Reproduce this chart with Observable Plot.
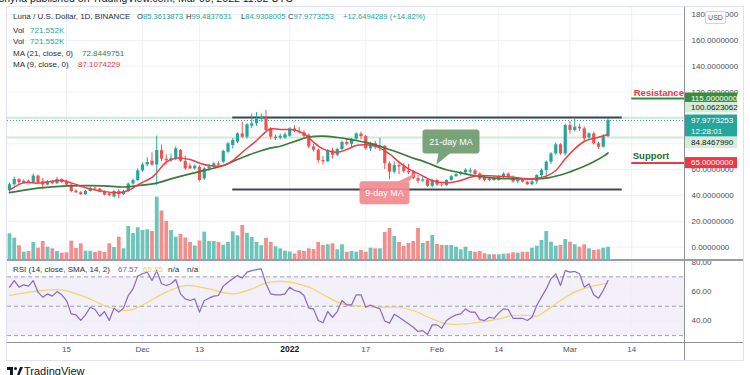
<!DOCTYPE html>
<html>
<head>
<meta charset="utf-8">
<script src="https://cdn.jsdelivr.net/npm/d3@7"></script>
<script src="https://cdn.jsdelivr.net/npm/@observablehq/plot@0.6"></script>
<style>
html,body{margin:0;padding:0;background:#fff;}
#wrap{position:relative;width:750px;height:375px;overflow:hidden;background:#fff;font-family:"Liberation Sans",Arial,sans-serif;color:#131722;}
.a{position:absolute;white-space:nowrap;}
.hd{font-size:8px;line-height:10px;color:#2a2e39;}
.hv{font-size:7.6px;line-height:10px;color:#2a2e39;}
.tl{color:#26a69a}
</style>
</head>
<body>
<div id="wrap">
  <div class="a" style="left:-1px;top:-8px;font-size:10.5px;color:#131722;">shyna published on TradingView.com, Mar 09, 2022 11:52 UTC</div>
  <div class="a" style="left:6px;top:6px;width:736px;height:353px;border:1px solid #e0e3eb;"></div>
</div>
<script>
// ---------- data ----------
const startDate = "2021-11-03";
const open = [43.8,48.2,52.3,49.7,51,50,55,50.5,48,50.5,
  49,52.3,50,48,43.3,42,40.5,43,45.5,44.9,
  42.5,41,38.8,43,40.5,43,48.8,51.5,59,63.6,
  66.5,63.5,74.7,68,66.7,68.3,74.7,66.2,62.6,60.5,
  61.8,52.8,60.5,62,64.4,65.7,73.4,78.6,81.2,87.6,
  85,93.6,95.4,98.7,99.8,91.5,83.8,84.3,84.3,85.8,
  91.5,89.5,88.4,86.5,77.5,75,67,66,74.5,71,
  75.5,81,79.5,83.5,87.5,85.5,76,80,77,78,
  64.5,58,63,62,58.5,57.5,53,51,52,47,
  51.5,48,47.5,51.5,54.5,56,57.5,58,59,56.5,
  53.5,51.5,53,51.5,54,56.5,54,50.5,51.5,50.2,
  48.3,50.5,55.4,59.3,65.7,72.1,79.1,72.1,94.1,90.2,
  92.8,91.5,84.5,87.6,79.9,77.3,85.3613873];
const high = [49.7,54.1,53,52,51.8,56.5,55.8,53,51.5,51.5,
  54,52.8,51.8,49,44.5,43,43.8,46.5,46.3,45.5,
  43.3,42.3,44,44.5,44,49.5,52.5,60.5,65,69,
  73,86,79,71.5,72,77.5,75.5,70.5,64.5,63.5,
  63,61.5,64,65.5,66,75,81,84,88.5,96.7,
  95.5,103,104,103,105.7,92.5,86.5,87.5,88.5,92.5,
  94,92.5,90,87.5,79.5,76,70,75.5,76.5,76.5,
  82,83.5,84,88.5,89,86.5,81,82,84,78.5,
  66,66,66,64.5,64,59,55.5,54,53,52.5,
  52.5,50,52,55.5,57,58.5,60.5,61,60,57.5,
  55,53.5,54.5,55.5,57.5,57.5,55,52,52.5,51,
  51.5,56,60.5,66.5,73,80.5,80,95,97,98.7,
  95,93,88.5,89,81,87,99.4837631];
const low = [42.5,47,48.5,49,49.5,49.5,49,44.4,47.5,48.2,
  48.5,49.2,47.5,42,41.5,40,40,42.5,44,42,
  39.5,39,38,37.5,40,42.5,48,50.5,58,62,
  62.5,47.6,66,63.5,65.5,67,65.5,59.5,60,59.5,
  50.5,51.5,58.5,61,61.5,64.5,72.5,76,80,84,
  83.5,91.5,93.5,96.5,89,83,82.5,83,83.5,85,
  88.5,87.5,84,76,73.5,64.5,63.5,65.5,68,70,
  74.5,78,77,82.5,83,75,74,75.5,74,60,
  52,56.5,56,57,56,52,49,50,46,46,
  47,46.5,47,51,54,55,56,56.5,55.5,51.5,
  50.5,50.5,50.8,51,53,52.5,49.5,49,49.5,47.5,
  47.5,48.5,54,53,64,71,71,70.5,87.5,89,
  89.5,82,83.5,79,75.5,76.5,84.9308005];
const close = [48.2,52.3,49.7,51,50,55,49.7,48,50.5,49,
  52.3,50,48,43,42,40.5,43,45.5,44.9,42.5,
  40.2,39.7,43,40.5,43,48.8,51.5,59,63.6,65.5,
  63.5,74.7,68,66.7,68.5,76,66.5,60.5,60.5,62.6,
  51.5,60.5,62,64.4,63.5,74,79.9,82.5,87.6,85,
  94.6,95.4,98.7,100.5,90.2,85,85,85.8,86.9,91.5,
  89.5,88.4,85.5,77.5,75,67,66,74.5,71,75.5,
  81,79.5,83.5,87.5,85.5,76,80,77,78,64.5,
  58,63,62,58.5,57.5,53,51,52,47,51.5,
  48,47.5,51.5,54.5,56,57.5,59.5,59,56,52.5,
  51.5,52.5,51.5,54.5,56.5,54,50.5,51.5,50.2,48.3,
  50.5,55.4,59.3,65.7,72.1,79.1,72.1,94.1,90.2,92.8,
  91.5,83.8,87.6,79.9,77.3,85.4,97.9773253];
const volume = [1450,1211,798,451,489,977,668,1032,722,635,
  489,396,418,1048,652,907,505,505,434,505,
  434,907,706,1265,635,1846,1466,1776,1629,1667,
  1575,3437,2688,2118,1629,1265,1412,1222,977,787,
  1059,1537,1032,1032,977,831,977,1558,1341,1900,
  1477,1249,977,804,1205,988,744,635,505,462,
  353,532,489,635,597,977,815,853,907,581,
  853,451,489,451,543,451,668,635,635,1520,
  1738,1303,977,760,923,1032,1738,923,1032,1358,
  869,815,815,815,722,581,722,489,451,489,
  364,310,310,310,342,364,418,396,451,451,
  668,776,1086,1575,994,776,815,1140,994,853,
  722,853,635,543,581,668,721.552];
const ma21Dates = ["2021-11-03","2021-11-09","2021-11-15","2021-11-20","2021-11-23","2021-11-27","2021-11-30","2021-12-04","2021-12-07","2021-12-11","2021-12-14","2021-12-18","2021-12-21","2021-12-25","2021-12-28","2021-12-30","2022-01-01","2022-01-03","2022-01-05","2022-01-08","2022-01-11","2022-01-13","2022-01-15","2022-01-17","2022-01-20","2022-01-22","2022-01-24","2022-01-27","2022-01-29","2022-01-31","2022-02-03","2022-02-06","2022-02-08","2022-02-12","2022-02-17","2022-02-21","2022-02-24","2022-02-27","2022-03-01","2022-03-04","2022-03-06","2022-03-08","2022-03-09"];
const ma21Values = [42.2,45.6,47.4,47.6,47.4,46.5,47.6,49.5,52.8,56.7,59.3,63.1,67.8,73.4,76.8,78,80.5,83,85.2,85.9,84.8,83.8,82.5,81,78,75.5,73,68.8,66.5,63.6,59.8,57.5,55.8,53.8,52.8,52.8,53.4,55.8,58.2,62.5,66,70.2,72.84];
const ma9Dates = ["2021-11-03","2021-11-06","2021-11-09","2021-11-14","2021-11-16","2021-11-20","2021-11-23","2021-11-26","2021-11-28","2021-11-30","2021-12-03","2021-12-04","2021-12-06","2021-12-08","2021-12-11","2021-12-13","2021-12-15","2021-12-18","2021-12-20","2021-12-22","2021-12-25","2021-12-27","2021-12-28","2021-12-30","2022-01-02","2022-01-04","2022-01-05","2022-01-06","2022-01-08","2022-01-11","2022-01-13","2022-01-15","2022-01-17","2022-01-19","2022-01-22","2022-01-24","2022-01-26","2022-01-28","2022-01-31","2022-02-03","2022-02-06","2022-02-08","2022-02-10","2022-02-14","2022-02-17","2022-02-21","2022-02-24","2022-02-26","2022-02-28","2022-03-02","2022-03-04","2022-03-07","2022-03-09"];
const ma9Values = [44,49.7,49.5,51.5,49.7,45,43,42,43.8,48.2,54,57.5,65.8,68.8,67.8,65,63.1,63.1,67,73.4,82.5,89.4,91.5,91,90.7,87.6,84.5,81.2,76,73.4,75.5,78.6,79.1,78.1,72.1,65.7,60.5,57,51.5,49.7,51.5,54.1,55.4,54.9,54.1,52.8,54.9,59.3,68.3,76,81.7,85,87.11];
const rsi = [63,67.5,63,64.6,63.7,67.5,59.6,56.2,58.4,56.9,
  60,57.8,53.9,44.8,44.1,40.3,44.1,49.3,47.8,43.2,
  46.4,40.3,48.7,46,48.7,57.3,61.8,70.5,72.1,73.2,
  67.5,74.3,65.3,64.1,65.3,68.2,58.4,55,53.9,55,
  46,53.9,55.5,56.9,57.3,63.7,66.4,68.7,70.9,69.1,
  73.2,74.3,75,75.5,65.3,58.4,57.8,57.8,58.4,63,
  60.7,60,57.3,48.7,48.2,40.3,38.7,46.4,42.5,46.4,
  53.9,50.9,50.9,57.8,57.8,49.3,50.9,49.3,48.2,40,
  38.5,44.5,42.5,40.3,38,35.7,32.8,33.4,30.7,37.3,
  37.3,35,40.3,42.5,44.1,44.8,48.2,46,46,40.9,
  40.3,42.5,41.8,45.5,48.2,47.8,41.8,41.8,41.8,40.3,
  42.5,50.5,56.2,61.8,68.7,72.1,64.1,74.3,73.2,73.7,
  72.1,63,65.3,57.8,55.5,60.7,67.57];
const rsiSmaDates = ["2021-11-03","2021-11-08","2021-11-14","2021-11-19","2021-11-24","2021-11-28","2021-12-01","2021-12-06","2021-12-10","2021-12-15","2021-12-20","2021-12-24","2021-12-27","2021-12-31","2022-01-05","2022-01-09","2022-01-12","2022-01-16","2022-01-20","2022-01-24","2022-01-27","2022-01-31","2022-02-03","2022-02-07","2022-02-10","2022-02-14","2022-02-17","2022-02-20","2022-02-22","2022-02-24","2022-02-27","2022-03-02","2022-03-05","2022-03-09"];
const rsiSmaValues = [57.3,60,61.2,56.2,49.3,47.1,50.9,59.6,64.1,61.8,58.4,61.8,65.9,66.8,63,56.2,51.6,50,49.3,49.3,47.1,41.4,38,38,39.1,41.4,43.7,43.7,43.2,47.1,53.9,59.6,63,65.85];
const tickDatesStr = ["2021-11-15","2021-12-01","2021-12-13","2022-01-01","2022-01-17","2022-02-01","2022-02-14","2022-03-01","2022-03-14"];
const tickLabels = ["15","Dec","13","2022","17","Feb","14","Mar","14"];
const priceTicks = [0,20,40,60,80,100,120,140,160,180];
const priceLabelTicks = [0,20,40,60,80,120,140,160,180]; // 100 sits fully under the price tags
const rsiTicks = [40,60,80];
const rsiLevels = [30,50,70];
const channelDates = ["2021-12-20","2022-03-12"];
const channelLevels = [100.2,44.6];
const levelStartDate = "2022-03-14";
const resistance = 115, support = 65;
const lastHigh = 100.0623062, lastLow = 84.8467990, lastClose = 97.9773253;
const callouts = [
  {label:"21-day MA", date:"2022-02-01", value:63.5},
  {label:"9-day MA", date:"2022-01-28", value:57.5}
];

// ---------- layout ----------
const FONT = '"Liberation Sans", Arial, sans-serif';
const TEAL = "#26a69a", RED = "#ef5350", GRID = "#edf0f5", AX = "#4c505b";
const W = 736, MR = 59, PH = 253;
const xDomain = [new Date("2021-11-02T13:54:00Z"), new Date("2022-03-25T02:32:00Z")];
const dates = d3.utcDay.range(new Date(startDate), d3.utcDay.offset(new Date(startDate), open.length));
const tickDates = tickDatesStr.map(d => new Date(d));
const idx = d3.range(open.length);
const isUp = i => close[i] >= open[i];
const wrap = document.getElementById("wrap");

function place(el, left, top) {
  el.style.position = "absolute";
  el.style.left = left + "px";
  el.style.top = top + "px";
  wrap.appendChild(el);
}

// price pane
const price = Plot.plot({
  width: W, height: PH, marginTop: 0, marginBottom: 0, marginLeft: 0, marginRight: MR,
  style: {background: "transparent", fontFamily: FONT, fontSize: "8px", overflow: "visible"},
  x: {type: "utc", domain: xDomain, axis: null},
  y: {domain: [-10.40, 185.42], axis: null},
  color: {type: "identity"},
  marks: [
    Plot.ruleY(priceTicks, {stroke: GRID}),
    Plot.ruleX(tickDates, {stroke: GRID}),
    Plot.ruleY([lastHigh, lastLow], {stroke: "#d3e9d3", strokeWidth: 2}),
    Plot.ruleY([lastClose], {stroke: TEAL, strokeDasharray: "1,2", strokeWidth: 1}),
    Plot.ruleY(channelLevels, {x1: () => new Date(channelDates[0]), x2: () => new Date(channelDates[1]), stroke: "#434651", strokeWidth: 2}),
    Plot.ruleX(idx, {x: i => dates[i], y1: i => low[i], y2: i => high[i], stroke: i => isUp(i) ? TEAL : RED, strokeWidth: 1}),
    Plot.ruleX(idx, {x: i => dates[i], y1: i => open[i], y2: i => close[i], stroke: i => isUp(i) ? TEAL : RED, strokeWidth: 3.2}),
    Plot.line(ma21Dates, {x: d => new Date(d), y: (d, i) => ma21Values[i], stroke: "#3b7b3b", strokeWidth: 1.7, curve: "catmull-rom"}),
    Plot.line(ma9Dates, {x: d => new Date(d), y: (d, i) => ma9Values[i], stroke: "#f23a48", strokeWidth: 1.5, curve: "catmull-rom"}),
    Plot.ruleY([resistance], {x1: () => new Date(levelStartDate), x2: () => xDomain[1], stroke: "#388e3c", strokeWidth: 2}),
    Plot.ruleY([support], {x1: () => new Date(levelStartDate), x2: () => xDomain[1], stroke: "#f23645", strokeWidth: 2}),
    Plot.text([resistance], {x: () => new Date(levelStartDate), y: d => d, text: () => "Resistance", textAnchor: "start", dx: 2, dy: -6, fill: "#f23645", fontWeight: "bold", fontSize: 9.5}),
    Plot.text([support], {x: () => new Date(levelStartDate), y: d => d, text: () => "Support", textAnchor: "start", dx: 1, dy: -7, fill: "#1e6b2a", fontWeight: "bold", fontSize: 9.5}),
    Plot.text(priceLabelTicks, {y: d => d, text: d => d.toFixed(7), frameAnchor: "right", textAnchor: "start", dx: 7, fill: AX, fontSize: 8})
  ]
});
place(price, 7, 7);

// axis tags + callouts drawn with the plot's own scales
{
  const ys = price.scale("y"), xs = price.scale("x");
  const g = d3.select(price).append("g").attr("text-anchor", "start");
  const x0 = W - MR;
  const tag = (top, h, fill, texts, color) => {
    g.append("rect").attr("x", x0 + 1).attr("y", top).attr("width", 52).attr("height", h).attr("fill", fill);
    texts.forEach((t, k) => g.append("text").attr("x", x0 + 7).attr("y", top + h / texts.length / 2 + (h / texts.length) * k)
      .attr("dy", "0.35em").attr("text-anchor", "start").attr("fill", color).attr("font-size", 8).text(t));
  };
  const cTop = ys.apply(lastClose) - 5.5;
  tag(ys.apply(resistance) - 5.5, 11, "#388e3c", [resistance.toFixed(7)], "#fff");
  tag(cTop - 12.5, 10.5, "#d6ecd6", [lastHigh.toFixed(7)], "#131722");
  tag(cTop, 22, TEAL, [lastClose.toFixed(7), "12:28:01"], "#fff");
  tag(cTop + 22.5, 11, "#d6ecd6", [lastLow.toFixed(7)], "#131722");
  tag(ys.apply(support) - 5.5, 11, "#f23645", [support.toFixed(7)], "#fff");

  const styles = [
    {fill: "#6f9c6f", box: [-14, -35, 57, 24], tail: [[2, -11.5], [14, -11.5]]},
    {fill: "#f28a90", box: [-58, 9, 50, 23], tail: [[-20, 9.5], [-9, 9.5]]}
  ];
  callouts.forEach((c, k) => {
    const s = styles[k];
    const tx = xs.apply(new Date(c.date)), ty = ys.apply(c.value);
    const cg = g.append("g").attr("opacity", 0.92);
    cg.append("rect").attr("x", tx + s.box[0]).attr("y", ty + s.box[1]).attr("width", s.box[2]).attr("height", s.box[3]).attr("rx", 3).attr("fill", s.fill);
    cg.append("path").attr("d", `M${tx + s.tail[0][0]},${ty + s.tail[0][1]}L${tx + s.tail[1][0]},${ty + s.tail[1][1]}L${tx},${ty}Z`).attr("fill", s.fill);
    cg.append("text").attr("x", tx + s.box[0] + s.box[2] / 2).attr("y", ty + s.box[1] + s.box[3] / 2).attr("dy", "0.35em")
      .attr("text-anchor", "middle").attr("fill", "#fff").attr("font-size", 9).text(c.label);
  });
}

// volume overlay
const vol = Plot.plot({
  width: W, height: PH, marginTop: 0, marginBottom: 0, marginLeft: 0, marginRight: MR,
  style: {background: "transparent"},
  x: {type: "utc", domain: xDomain, axis: null},
  y: {domain: [0, 13730], axis: null},
  color: {type: "identity"},
  marks: [
    Plot.ruleX(idx, {x: i => dates[i], y1: 0, y2: i => volume[i], stroke: i => isUp(i) ? "#6cc4bb" : "#f28e8c", strokeWidth: 3.8})
  ]
});
place(vol, 7, 7);

// RSI pane + time axis
const rsiPlot = Plot.plot({
  width: W, height: 100, marginTop: 0, marginBottom: 18, marginLeft: 0, marginRight: MR,
  style: {background: "transparent", fontFamily: FONT, fontSize: "8px", overflow: "hidden"},
  x: {type: "utc", domain: xDomain, axis: null},
  y: {domain: [25.3, 81.16], axis: null},
  marks: [
    Plot.rect([rsiLevels], {x1: () => xDomain[0], x2: () => xDomain[1], y1: d => d[0], y2: d => d[2], fill: "#7e57c2", fillOpacity: 0.09}),
    Plot.ruleY(rsiTicks, {stroke: GRID}),
    Plot.ruleX(tickDates, {stroke: GRID}),
    Plot.ruleY(rsiLevels, {stroke: "#9da0a8", strokeDasharray: "4,3"}),
    Plot.line(rsiSmaDates, {x: d => new Date(d), y: (d, i) => rsiSmaValues[i], stroke: "#f3d46a", strokeWidth: 1.2, curve: "catmull-rom"}),
    Plot.line(rsi, {x: (d, i) => dates[i], y: d => d, stroke: "#8a66cc", strokeWidth: 1.2}),
    Plot.text(rsiTicks, {y: d => d, text: d => d.toFixed(2), frameAnchor: "right", textAnchor: "start", dx: 7, fill: AX, fontSize: 8}),
    Plot.text(tickDates, {x: d => d, text: (d, i) => tickLabels[i], frameAnchor: "bottom", dy: 9, fill: AX, fontSize: 8, filter: (d, i) => tickLabels[i] !== "2022"}),
    Plot.text(tickDates, {x: d => d, text: (d, i) => tickLabels[i], frameAnchor: "bottom", dy: 9, fill: "#131722", fontSize: 8.5, fontWeight: "bold", filter: (d, i) => tickLabels[i] === "2022"})
  ]
});
place(rsiPlot, 7, 260);

// pane separators and overlays
wrap.insertAdjacentHTML("beforeend", `
  <div class="a" style="left:684px;top:7px;width:1px;height:353px;background:#8f929b;"></div>
  <div class="a" style="left:7px;top:259px;width:736px;height:2px;background:#9a9da6;"></div>
  <div class="a" style="left:7px;top:342px;width:736px;height:1px;background:#8f929b;"></div>
  <div class="a" style="left:705px;top:11px;width:19px;height:11px;border:1px solid #d1d4dc;border-radius:2px;background:#fff;font-size:7px;line-height:11px;text-align:center;color:#50535e;">USD</div>
  <div class="a hd" style="left:13px;top:12px;">Luna / U.S. Dollar, 1D, BINANCE</div>
  <div class="a hv" style="left:137px;top:12px;">O<span class="tl">85.3613873</span></div>
  <div class="a hv" style="left:186px;top:12px;">H<span class="tl">99.4837631</span></div>
  <div class="a hv" style="left:241px;top:12px;">L<span class="tl">84.9308005</span></div>
  <div class="a hv" style="left:288px;top:12px;">C<span class="tl">97.9773253</span></div>
  <div class="a hv tl" style="left:343px;top:12px;">+12.6494289 (+14.82%)</div>
  <div class="a hd" style="left:13px;top:25.5px;">Vol</div>
  <div class="a hd tl" style="left:30px;top:25.5px;">721.552K</div>
  <div class="a hd" style="left:13px;top:36.5px;">Vol</div>
  <div class="a hd tl" style="left:30px;top:36.5px;">721.552K</div>
  <div class="a hd" style="left:13px;top:48.5px;">MA (21, close, 0)</div>
  <div class="a hd" style="left:82px;top:48.5px;color:#3b7b3b;">72.8449751</div>
  <div class="a hd" style="left:13px;top:60px;">MA (9, close, 0)</div>
  <div class="a hd" style="left:78px;top:60px;color:#f23645;">87.1074229</div>
  <div class="a hd" style="left:13px;top:265px;">RSI (14, close, SMA, 14, 2)</div>
  <div class="a hd" style="left:118px;top:265px;color:#7e57c2;">67.57</div>
  <div class="a hd" style="left:143px;top:265px;color:#f0cf55;">65.85</div>
  <div class="a hd" style="left:168px;top:265px;">n/a</div>
  <div class="a hd" style="left:187px;top:265px;">n/a</div>
  <svg class="a" style="left:7px;top:366px;" width="16" height="10"><rect x="0" y="1" width="6" height="3" fill="#131722"/><rect x="3" y="1" width="3" height="8" fill="#131722"/><circle cx="8.5" cy="2.5" r="1.5" fill="#131722"/><path d="M10,9L13,1L16,1L12.5,9Z" fill="#131722"/></svg>
  <div class="a" style="left:24px;top:365px;font-size:11px;color:#131722;">TradingView</div>
`);
</script>
</body>
</html>
